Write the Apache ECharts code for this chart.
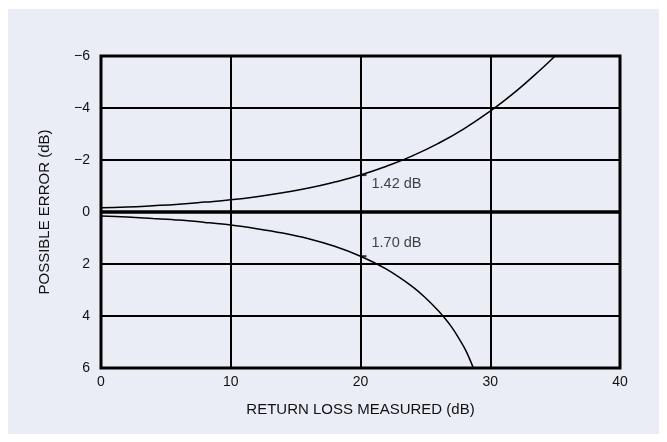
<!DOCTYPE html>
<html>
<head>
<meta charset="utf-8">
<script src="https://cdn.jsdelivr.net/npm/echarts@6/dist/echarts.min.js"></script>
<style>
  html, body { margin: 0; padding: 0; background: #ffffff; }
  #panel { position: absolute; left: 8px; top: 9px; width: 651px; height: 425px; background: #eaedf5; }
  #chart { position: absolute; left: 0; top: 0; width: 667px; height: 442px; }
</style>
</head>
<body>
<div id="panel"></div>
<div id="chart"></div>
<script>
// Return loss measured (dB) along the x axis
const returnLoss = [0, 2, 4, 6, 8, 10, 12, 14, 16, 18, 20, 22, 24, 26, 28, 30, 32, 34, 35];
// Upper error bound (negative dB, plotted upward on the inverted axis)
const upperError = [-0.16, -0.19, -0.24, -0.30, -0.38, -0.47, -0.59, -0.74, -0.92, -1.15, -1.42, -1.76, -2.16, -2.64, -3.21, -3.88, -4.65, -5.53, -6.0];
// Lower error bound (positive dB)
const lowerRL = [0, 2, 4, 6, 8, 10, 12, 14, 16, 18, 20, 22, 24, 25, 26, 26.5, 27, 27.5, 28, 28.35, 28.7];
const lowerError = [0.15, 0.19, 0.25, 0.31, 0.40, 0.50, 0.64, 0.81, 1.03, 1.32, 1.70, 2.20, 2.87, 3.30, 3.80, 4.09, 4.41, 4.79, 5.22, 5.58, 6.0];
// Annotated points at 20 dB return loss
const notePoints = [[20, -1.42, '1.42 dB'], [20, 1.70, '1.70 dB']];
const yTicks = [-6, -4, -2, 0, 2, 4, 6];
const xTicks = [0, 10, 20, 30, 40];

const chart = echarts.init(document.getElementById('chart'));
const font = 'Liberation Sans, Arial, sans-serif';

chart.setOption({
  backgroundColor: 'transparent',
  animation: false,
  grid: { left: 101, top: 56, right: 47, bottom: 74, show: true, borderWidth: 3, borderColor: '#000', backgroundColor: 'transparent' },
  xAxis: {
    type: 'value', min: xTicks[0], max: xTicks[xTicks.length - 1], interval: 10,
    name: 'RETURN LOSS MEASURED (dB)', nameLocation: 'middle', nameGap: 34,
    nameTextStyle: { color: '#111', fontFamily: font, fontSize: 15 },
    axisLine: { show: false }, axisTick: { show: false },
    axisLabel: { color: '#111', fontFamily: font, fontSize: 14, margin: 7 },
    splitLine: { show: true, lineStyle: { color: '#000', width: 2 } }
  },
  yAxis: {
    type: 'value', inverse: true, min: yTicks[0], max: yTicks[yTicks.length - 1], interval: 2,
    name: 'POSSIBLE ERROR (dB)', nameLocation: 'middle', nameGap: 49, nameRotate: 90,
    nameTextStyle: { color: '#111', fontFamily: font, fontSize: 15 },
    axisLine: { show: false }, axisTick: { show: false },
    axisLabel: {
      color: '#111', fontFamily: font, fontSize: 14, margin: 11, verticalAlign: 'middle',
      padding: [0, 0, 6, 0],
      formatter: v => String(v).replace('-', '\u2212')
    },
    splitLine: { show: true, lineStyle: { color: '#000', width: 2 } }
  },
  series: [
    {
      type: 'line', smooth: true, symbol: 'none',
      data: returnLoss.map((x, i) => [x, upperError[i]]),
      lineStyle: { color: '#000', width: 1.5 },
      markLine: {
        silent: true, symbol: 'none', label: { show: false },
        lineStyle: { color: '#000', width: 3.5, type: 'solid' },
        data: [{ yAxis: 0 }]
      }
    },
    {
      type: 'line', smooth: 0.3, symbol: 'none',
      data: lowerRL.map((x, i) => [x, lowerError[i]]),
      lineStyle: { color: '#000', width: 1.5 }
    },
    {
      type: 'scatter', symbol: 'rect', symbolSize: [6, 2], symbolOffset: [3, 0],
      itemStyle: { color: '#000' },
      data: notePoints.map((p, i) => ({
        value: [p[0], p[1]],
        label: {
          show: true, formatter: p[2], position: 'right',
          offset: i === 0 ? [0, 9] : [0, -13],
          color: '#111', fontFamily: font, fontSize: 14.5
        }
      }))
    }
  ]
});
</script>
</body>
</html>
